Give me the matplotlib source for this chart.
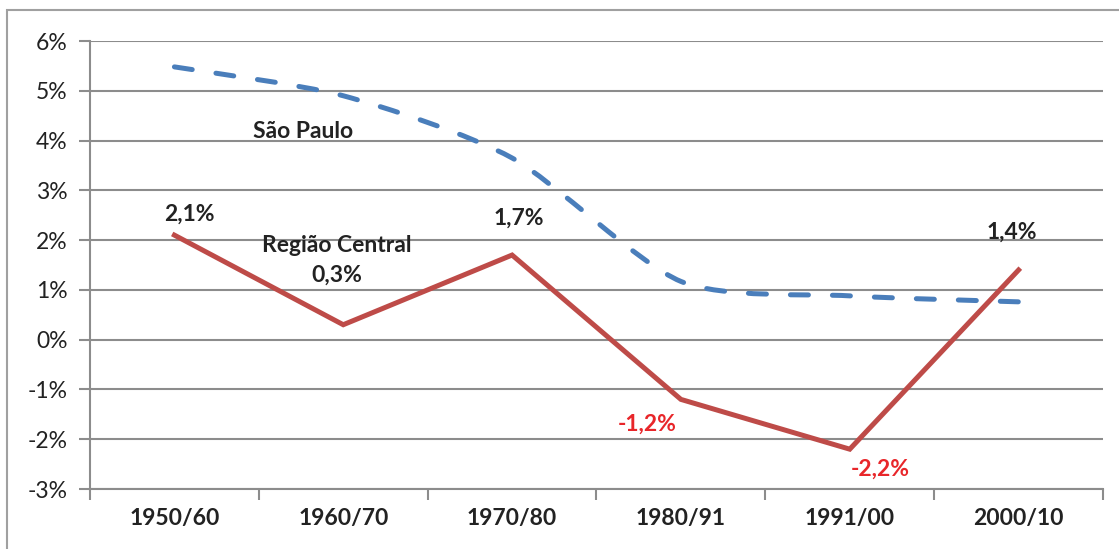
import numpy as np
import matplotlib.pyplot as plt
from matplotlib.path import Path
from matplotlib.patches import PathPatch, Rectangle

periodos = ['1950/60', '1960/70', '1970/80', '1980/91', '1991/00', '2000/10']
sao_paulo = [5.48, 4.9, 3.65, 1.17, 0.88, 0.76]
regiao_central = [2.1, 0.3, 1.7, -1.2, -2.2, 1.4]
rotulos = ['2,1%', '0,3%', '1,7%', '-1,2%', '-2,2%', '1,4%']
yticks = [-3, -2, -1, 0, 1, 2, 3, 4, 5, 6]

plt.rcParams['font.family'] = ['Lato', 'DejaVu Sans']
azul = '#4A7EBB'
vermelho = '#BE4B48'
cinza = '#8C8C8C'
texto = '#222222'
fs = 16.5

fig = plt.figure(figsize=(11.19, 5.49), dpi=100)
fig.patches.append(Rectangle((7/1119, -0.1), 1.2, (549-10)/549 + 0.1,
                             transform=fig.transFigure, fill=False,
                             edgecolor='#A0A0A0', linewidth=1.5))
ax = fig.add_axes([90/1119, 60/549, (1103-90)/1119, (489-41)/549])

x = np.arange(len(periodos))

# linha suavizada (bezier) para São Paulo
pts = np.column_stack([x, sao_paulo])
verts = [tuple(pts[0])]
codes = [Path.MOVETO]
k = 1 / 8
for i in range(len(pts) - 1):
    p0 = pts[i - 1] if i > 0 else pts[i]
    p1 = pts[i]
    p2 = pts[i + 1]
    p3 = pts[i + 2] if i + 2 < len(pts) else pts[i + 1]
    c1 = p1 + (p2 - p0) * k
    c2 = p2 - (p3 - p1) * k
    verts += [tuple(c1), tuple(c2), tuple(p2)]
    codes += [Path.CURVE4] * 3
ax.add_patch(PathPatch(Path(verts, codes), fill=False, edgecolor=azul,
                       linewidth=3.6, linestyle=(0, (3.6, 4.8)),
                       capstyle='round', zorder=3))

ax.plot(x, regiao_central, color=vermelho, linewidth=3.6, zorder=4,
        solid_joinstyle='miter')

ax.set_xlim(-0.5, 5.5)
ax.set_ylim(-3, 6)
ax.set_yticks(yticks)
ax.set_yticklabels([f'{v}%' for v in yticks], fontsize=fs, color=texto)
ax.set_xticks(np.arange(-0.5, 6, 1))
ax.set_xticklabels([])
ax.set_xticks(x, minor=True)
ax.set_xticklabels(periodos, minor=True, fontsize=fs, fontweight='bold', color=texto)
ax.tick_params(axis='x', which='minor', length=0, pad=14)
ax.tick_params(axis='x', which='major', length=8, color=cinza, width=1.5)
ax.tick_params(axis='y', length=8, color=cinza, width=1.5, pad=8)
ax.grid(axis='y', color=cinza, linewidth=1.5)
ax.set_axisbelow(True)
for s in ['top', 'right']:
    ax.spines[s].set_visible(False)
for s in ['left', 'bottom']:
    ax.spines[s].set_color(cinza)
    ax.spines[s].set_linewidth(1.5)

# rótulos de dados
offsets = [(0.09, 0.42), (-0.04, 1.0), (0.04, 0.75), (-0.2, -0.5), (0.18, -0.4), (-0.04, 0.75)]
for i, (v, r) in enumerate(zip(regiao_central, rotulos)):
    cor = '#E8262A' if v < -1 else texto
    ax.text(x[i] + offsets[i][0], v + offsets[i][1], r, ha='center', va='center',
            fontsize=fs, fontweight='bold', color=cor, zorder=5)

ax.text(0.76, 4.18, 'São Paulo', ha='center', va='center', fontsize=fs,
        fontweight='bold', color=texto)
ax.text(0.96, 1.9, 'Região Central', ha='center', va='center', fontsize=fs,
        fontweight='bold', color=texto)

fig.savefig('out.png', dpi=100)
